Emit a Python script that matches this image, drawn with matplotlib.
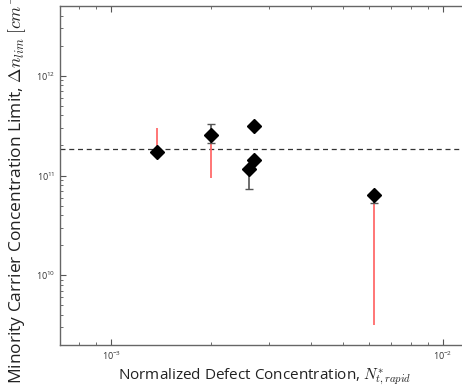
import matplotlib
matplotlib.use("Agg")
import matplotlib.pyplot as plt
import numpy as np

plt.rcParams['font.family'] = ['Open Sans', 'DejaVu Sans']
plt.rcParams['mathtext.fontset'] = 'cm'

# data
defect_conc = [1.37e-3, 2.0e-3, 2.61e-3, 2.70e-3, 2.70e-3, 6.22e-3]
dn_lim = [1.73e11, 2.57e11, 1.16e11, 1.42e11, 3.16e11, 6.33e10]
black_low = [1.73e11, 2.11e11, 7.36e10, 1.42e11, 3.16e11, 5.25e10]
black_high = [1.73e11, 3.30e11, 1.16e11, 1.42e11, 3.16e11, 6.33e10]
red_low = [1.73e11, 9.5e10, 1.16e11, 1.42e11, 3.16e11, 3.2e9]
red_high = [3.0e11, 2.57e11, 1.16e11, 1.42e11, 3.16e11, 6.33e10]
mean_limit = 1.83e11

x = np.array(defect_conc)
y = np.array(dn_lim)

fig = plt.figure(figsize=(4.62, 3.92), dpi=100)
ax = fig.add_axes([60/462, 47/392, 409/462, 339/392])

ax.errorbar(x, y, yerr=[y - np.array(red_low), np.array(red_high) - y],
            fmt='none', ecolor='#ff6b6b', elinewidth=1.3, capsize=0, zorder=2)
ax.errorbar(x, y, yerr=[y - np.array(black_low), np.array(black_high) - y],
            fmt='none', ecolor='#555555', elinewidth=1.2, capsize=3, capthick=1, zorder=3)
ax.axhline(mean_limit, color='#333333', linestyle='--', linewidth=0.9, dashes=(4, 3), zorder=1)
ax.plot(x, y, linestyle='none', marker='D', markersize=7, color='black', zorder=4)

ax.set_xscale('log')
ax.set_yscale('log')
ax.set_xlim(7e-4, 1.2e-2)
ax.set_ylim(2e9, 5e12)

ax.tick_params(which='both', direction='in', top=True, right=True, labelsize=6.5, colors='#555555', labelcolor='#333333')
ax.tick_params(which='major', length=4)
ax.tick_params(which='minor', length=2)
for s in ax.spines.values():
    s.set_color('#666666')
    s.set_linewidth(1.0)

ax.set_xlabel('Normalized Defect Concentration, $N^{*}_{t,rapid}$', fontsize=11, color='#222222', labelpad=3)
ax.set_ylabel('Minority Carrier Concentration Limit, $\\Delta n_{lim}$ $[cm^{-3}]$', fontsize=12.5, color='#222222')
ax.yaxis.set_label_coords(-0.075, 0.475)

fig.savefig('out.png', dpi=100)
